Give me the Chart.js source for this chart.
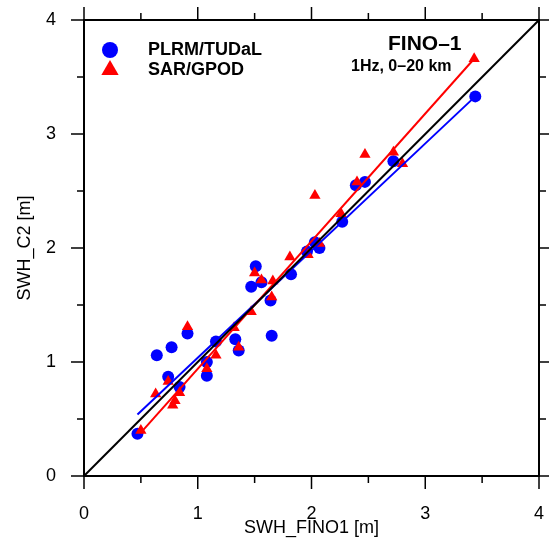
<!DOCTYPE html>
<html>
<head>
<meta charset="utf-8">
<script src="https://cdn.jsdelivr.net/npm/chart.js@4.4.1/dist/chart.umd.min.js"></script>
<style>
  body { margin: 0; background: #fff; }
  #wrap { width: 549px; height: 558px; }
</style>
</head>
<body>
<div id="wrap"><canvas id="scatterChart" width="549" height="558"></canvas></div>
<script>
// PLRM/TUDaL (blue circles)
const plrmX = [0.47, 0.64, 0.77, 0.91, 0.74, 0.84, 1.08, 1.08, 1.16, 1.33, 1.36, 1.47, 1.51,
               1.56, 1.64, 1.65, 1.82, 1.96, 2.03, 2.07, 2.27, 2.39, 2.47, 2.72, 3.44];
const plrmY = [0.37, 1.06, 1.13, 1.25, 0.87, 0.78, 1.00, 0.88, 1.18, 1.20, 1.10, 1.66, 1.84,
               1.70, 1.54, 1.23, 1.77, 1.97, 2.05, 2.00, 2.23, 2.55, 2.58, 2.76, 3.33];

// SAR/GPOD (red triangles)
const sarX = [0.50, 0.63, 0.74, 0.78, 0.80, 0.84, 0.91, 1.08, 1.16, 1.32, 1.36, 1.47, 1.50,
              1.56, 1.65, 1.66, 1.81, 1.97, 2.03, 2.07, 2.26, 2.40, 2.47, 2.72, 2.80, 3.43];
const sarY = [0.40, 0.72, 0.83, 0.62, 0.66, 0.73, 1.31, 0.94, 1.06, 1.30, 1.13, 1.44, 1.78,
              1.72, 1.57, 1.71, 1.92, 1.94, 2.46, 2.04, 2.30, 2.58, 2.82, 2.84, 2.74, 3.66];

// fitted lines and 1:1 line (end points)
const plrmFitX = [0.47, 3.44];
const plrmFitY = [0.54, 3.33];
const sarFitX = [0.50, 3.43];
const sarFitY = [0.38, 3.66];
const oneToOneX = [0, 4];
const oneToOneY = [0, 4];

const axisTicks = [0, 1, 2, 3, 4];
const minorTicks = [0.5, 1.5, 2.5, 3.5];

const toPoints = (xs, ys) => xs.map((x, i) => ({ x: x, y: ys[i] }));

const fontFamily = "'Liberation Sans', Arial, Helvetica, sans-serif";

// frame, outward ticks on all four sides, legend and labels
const decorations = {
    id: "decorations",
    afterDatasetsDraw(chart) {
        const ctx = chart.ctx;
        const area = chart.chartArea;
        const xs = chart.scales.x;
        const ys = chart.scales.y;

        ctx.save();
        ctx.strokeStyle = "#000";
        ctx.lineWidth = 1.5;
        const drawTick = (v, len) => {
            const px = xs.getPixelForValue(v);
            const py = ys.getPixelForValue(v);
            ctx.beginPath();
            ctx.moveTo(px, area.bottom); ctx.lineTo(px, area.bottom + len);
            ctx.moveTo(px, area.top); ctx.lineTo(px, area.top - len);
            ctx.moveTo(area.left, py); ctx.lineTo(area.left - len, py);
            ctx.moveTo(area.right, py); ctx.lineTo(area.right + len, py);
            ctx.stroke();
        };
        axisTicks.forEach(v => drawTick(v, 13));
        minorTicks.forEach(v => drawTick(v, 7));

        ctx.lineWidth = 2;
        ctx.strokeRect(area.left, area.top, area.right - area.left, area.bottom - area.top);

        // legend
        ctx.fillStyle = "#0000ff";
        ctx.beginPath();
        ctx.arc(110, 50, 8, 0, Math.PI * 2);
        ctx.fill();

        ctx.fillStyle = "#ff0000";
        ctx.beginPath();
        const r = 10, cx = 110, cy = 70;
        ctx.moveTo(cx, cy - r);
        ctx.lineTo(cx + r * Math.sin(2 * Math.PI / 3), cy - r * Math.cos(2 * Math.PI / 3));
        ctx.lineTo(cx - r * Math.sin(2 * Math.PI / 3), cy - r * Math.cos(2 * Math.PI / 3));
        ctx.closePath();
        ctx.fill();

        ctx.fillStyle = "#000";
        ctx.textBaseline = "middle";
        ctx.textAlign = "left";
        ctx.font = "bold 18px " + fontFamily;
        ctx.fillText("PLRM/TUDaL", 148, 50);
        ctx.fillText("SAR/GPOD", 148, 70);

        ctx.font = "bold 21px " + fontFamily;
        ctx.fillText("FINO–1", 388, 44);
        ctx.font = "bold 16px " + fontFamily;
        ctx.fillText("1Hz, 0–20 km", 351, 67);
        ctx.restore();
    }
};

const ctx = document.getElementById("scatterChart").getContext("2d");

new Chart(ctx, {
    type: "scatter",
    data: {
        datasets: [
            {
                type: "line",
                label: "1:1",
                data: toPoints(oneToOneX, oneToOneY),
                borderColor: "#000",
                borderWidth: 2,
                pointRadius: 0,
                fill: false,
                order: 1
            },
            {
                type: "line",
                label: "SAR fit",
                data: toPoints(sarFitX, sarFitY),
                borderColor: "#ff0000",
                borderWidth: 2,
                pointRadius: 0,
                fill: false,
                order: 2
            },
            {
                type: "line",
                label: "PLRM fit",
                data: toPoints(plrmFitX, plrmFitY),
                borderColor: "#0000ff",
                borderWidth: 2,
                pointRadius: 0,
                fill: false,
                order: 3
            },
            {
                label: "SAR/GPOD",
                data: toPoints(sarX, sarY),
                pointStyle: "triangle",
                pointRadius: 6.5,
                backgroundColor: "#ff0000",
                borderColor: "#ff0000",
                borderWidth: 0,
                order: 4
            },
            {
                label: "PLRM/TUDaL",
                data: toPoints(plrmX, plrmY),
                pointStyle: "circle",
                pointRadius: 6,
                backgroundColor: "#0000ff",
                borderColor: "#0000ff",
                borderWidth: 0,
                order: 5
            }
        ]
    },
    options: {
        responsive: false,
        animation: false,
        layout: { padding: { top: 20, right: 10, left: 0, bottom: 0 } },
        plugins: {
            legend: { display: false },
            tooltip: { enabled: false }
        },
        scales: {
            x: {
                type: "linear",
                min: 0,
                max: 4,
                afterFit: scale => {
                    scale.height = 82;
                    scale.paddingLeft = 0;
                    scale.paddingRight = 0;
                },
                afterBuildTicks: scale => { scale.ticks = axisTicks.map(v => ({ value: v })); },
                grid: { display: false, drawTicks: false },
                border: { display: false },
                ticks: {
                    color: "#000",
                    padding: 27,
                    font: { family: fontFamily, size: 18 }
                },
                title: {
                    display: true,
                    text: "SWH_FINO1 [m]",
                    color: "#000",
                    padding: { top: 0, bottom: 19 },
                    font: { family: fontFamily, size: 18 }
                }
            },
            y: {
                type: "linear",
                min: 0,
                max: 4,
                afterFit: scale => {
                    scale.width = 84;
                    scale.paddingTop = 0;
                    scale.paddingBottom = 0;
                },
                afterBuildTicks: scale => { scale.ticks = axisTicks.map(v => ({ value: v })); },
                grid: { display: false, drawTicks: false },
                border: { display: false },
                ticks: {
                    color: "#000",
                    padding: 28,
                    font: { family: fontFamily, size: 18 }
                },
                title: {
                    display: true,
                    text: "SWH_C2 [m]",
                    color: "#000",
                    padding: { top: 14, bottom: 0 },
                    font: { family: fontFamily, size: 18 }
                }
            }
        }
    },
    plugins: [decorations]
});
</script>
</body>
</html>
